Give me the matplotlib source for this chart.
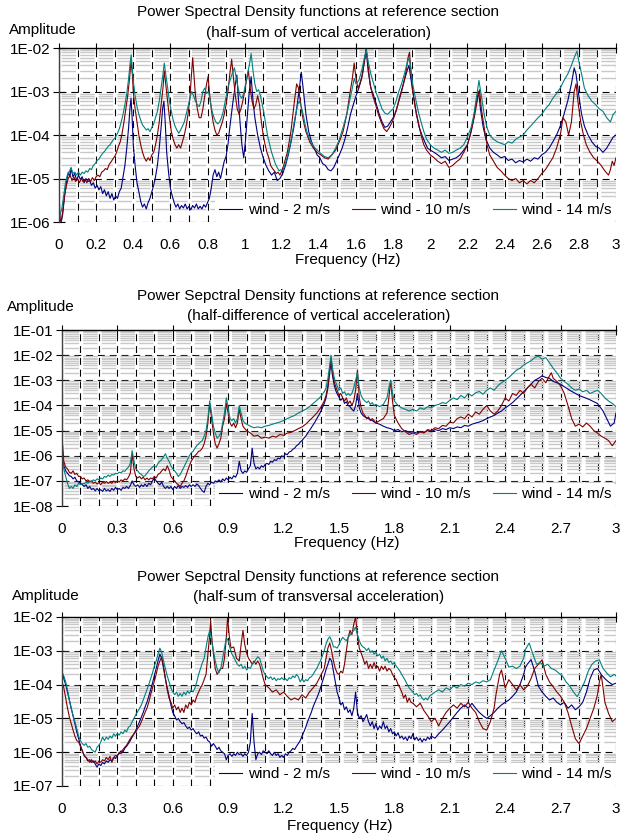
#!/usr/bin/env python
# -*- coding: utf-8 -*-

'''
Power spectral density functions at reference section, three panels.
Each series is a list of (frequency [Hz], amplitude) pairs read off the chart.
'''

import math
import matplotlib
matplotlib.use('Agg')
import matplotlib.pyplot as plt
from matplotlib.ticker import MultipleLocator, LogLocator, FuncFormatter, NullFormatter

# ---------------------------------------------------------------------------
# Panel 1: half-sum of vertical acceleration
# ---------------------------------------------------------------------------
sumV_2 = [(0.0, 6e-6), (0.005, 1.2e-6), (0.012, 1e-6), (0.02, 1.5e-6), (0.03, 4e-6), (0.04, 8e-6),
          (0.05, 1.4e-5), (0.058, 1.1e-5), (0.065, 1.7e-5), (0.075, 1.1e-5), (0.085, 1.3e-5),
          (0.095, 9e-6), (0.105, 1.2e-5), (0.115, 9.5e-6), (0.125, 1.1e-5), (0.135, 8e-6),
          (0.145, 1e-5), (0.155, 8.5e-6), (0.165, 9e-6), (0.175, 7e-6), (0.185, 8e-6), (0.195, 6e-6),
          (0.205, 7e-6), (0.215, 5.5e-6), (0.225, 6.5e-6), (0.235, 4.5e-6), (0.245, 5.5e-6),
          (0.255, 4e-6), (0.265, 5e-6), (0.275, 3.5e-6), (0.285, 4.5e-6), (0.295, 3.2e-6),
          (0.305, 4e-6), (0.315, 3.5e-6), (0.325, 5e-6), (0.335, 6e-6), (0.345, 1.1e-5),
          (0.355, 2e-5), (0.365, 5e-5), (0.375, 1.5e-4), (0.382, 4e-4), (0.388, 7e-4),
          (0.394, 2.5e-4), (0.4, 6e-5), (0.41, 2e-5), (0.42, 8e-6), (0.43, 5e-6), (0.44, 3e-6),
          (0.45, 2.2e-6), (0.46, 2.6e-6), (0.47, 2e-6), (0.48, 2.8e-6), (0.49, 3.5e-6), (0.5, 5e-6),
          (0.51, 7e-6), (0.52, 1.1e-5), (0.53, 2e-5), (0.54, 5e-5), (0.55, 1.5e-4), (0.558, 4e-4),
          (0.565, 6e-4), (0.572, 2e-4), (0.58, 4e-5), (0.59, 1.4e-5), (0.6, 6e-6), (0.61, 4e-6),
          (0.62, 2.8e-6), (0.63, 2.2e-6), (0.64, 2.6e-6), (0.65, 2e-6), (0.66, 2.4e-6),
          (0.67, 2.1e-6), (0.68, 2.6e-6), (0.69, 2e-6), (0.7, 2.3e-6), (0.71, 1.9e-6),
          (0.72, 2.4e-6), (0.73, 2.1e-6), (0.74, 2.6e-6), (0.75, 2e-6), (0.76, 2.3e-6), (0.77, 2e-6),
          (0.78, 2.5e-6), (0.79, 2.2e-6), (0.8, 2.8e-6), (0.81, 3.5e-6), (0.82, 6e-6),
          (0.83, 1.2e-5), (0.84, 1.6e-5), (0.85, 1.1e-5), (0.86, 1.4e-5), (0.87, 1e-5),
          (0.88, 1.6e-5), (0.89, 2.5e-5), (0.9, 3.2e-5), (0.91, 6e-5), (0.92, 1.5e-4),
          (0.935, 5e-4), (0.95, 1.5e-3), (0.958, 2.4e-3), (0.965, 8e-4), (0.975, 2e-4),
          (0.985, 6e-5), (0.995, 3e-5), (1.005, 8e-5), (1.015, 3e-4), (1.025, 1e-3),
          (1.035, 2.2e-3), (1.045, 6e-4), (1.055, 2.5e-4), (1.07, 1e-4), (1.085, 5e-5), (1.1, 3e-5),
          (1.115, 2e-5), (1.13, 1.5e-5), (1.145, 1.2e-5), (1.16, 1.4e-5), (1.175, 9e-6),
          (1.19, 1e-5), (1.205, 1.3e-5), (1.22, 2e-5), (1.235, 3.5e-5), (1.25, 7e-5),
          (1.265, 1.5e-4), (1.28, 4e-4), (1.295, 1.2e-3), (1.305, 2.8e-3), (1.315, 1.2e-3),
          (1.33, 3e-4), (1.345, 1.2e-4), (1.36, 7e-5), (1.375, 5e-5), (1.39, 3.5e-5), (1.405, 3e-5),
          (1.42, 2.2e-5), (1.435, 2e-5), (1.45, 1.6e-5), (1.465, 1.5e-5), (1.48, 1.8e-5),
          (1.495, 2.5e-5), (1.51, 3.5e-5), (1.525, 5e-5), (1.54, 8e-5), (1.555, 1.5e-4),
          (1.57, 3e-4), (1.585, 5e-4), (1.6, 8e-4), (1.615, 1.2e-3), (1.63, 2e-3), (1.645, 5e-3),
          (1.655, 9e-3), (1.665, 3e-3), (1.68, 1.2e-3), (1.695, 8e-4), (1.71, 5e-4), (1.725, 3e-4),
          (1.74, 2e-4), (1.755, 1.5e-4), (1.77, 1.6e-4), (1.785, 2e-4), (1.8, 2.5e-4),
          (1.815, 3.5e-4), (1.83, 6e-4), (1.845, 1e-3), (1.86, 1.8e-3), (1.875, 3e-3),
          (1.885, 4e-3), (1.895, 2e-3), (1.91, 8e-4), (1.925, 3e-4), (1.94, 1.5e-4),
          (1.955, 1e-4), (1.97, 7e-5), (1.985, 5e-5), (2.0, 4.5e-5), (2.02, 4e-5), (2.04, 3.5e-5),
          (2.06, 3e-5), (2.08, 3.2e-5), (2.1, 2.6e-5), (2.12, 2.8e-5), (2.14, 3e-5), (2.16, 3.5e-5),
          (2.18, 4.5e-5), (2.2, 6e-5), (2.215, 1e-4), (2.23, 2e-4), (2.245, 5e-4), (2.26, 1e-3),
          (2.27, 4e-4), (2.285, 1.5e-4), (2.3, 8e-5), (2.32, 5e-5), (2.34, 4e-5), (2.36, 3.5e-5),
          (2.38, 3e-5), (2.4, 3.2e-5), (2.42, 2.6e-5), (2.44, 2.8e-5), (2.46, 2.3e-5),
          (2.48, 2.6e-5), (2.5, 2.4e-5), (2.52, 2.8e-5), (2.54, 2.5e-5), (2.56, 3e-5),
          (2.58, 2.8e-5), (2.6, 3.5e-5), (2.62, 4e-5), (2.64, 5e-5), (2.66, 7e-5), (2.68, 1e-4),
          (2.7, 1.6e-4), (2.72, 3e-4), (2.74, 6e-4), (2.76, 1.5e-3), (2.775, 3.5e-3),
          (2.785, 2.5e-3), (2.8, 8e-4), (2.815, 3e-4), (2.83, 1.6e-4), (2.85, 1e-4), (2.87, 7e-5),
          (2.89, 5.5e-5), (2.91, 5e-5), (2.93, 4e-5), (2.95, 5e-5), (2.97, 7e-5), (2.985, 9e-5),
          (3.0, 1e-4)]

sumV_10 = [(0.0, 3e-6), (0.005, 1.2e-6), (0.012, 1e-6), (0.02, 1.8e-6), (0.03, 4e-6), (0.04, 7e-6),
           (0.05, 1e-5), (0.06, 1.2e-5), (0.07, 9e-6), (0.08, 1.1e-5), (0.09, 8.5e-6), (0.1, 1e-5),
           (0.11, 8e-6), (0.12, 1e-5), (0.13, 8.5e-6), (0.14, 9.5e-6), (0.15, 8e-6), (0.16, 1e-5),
           (0.17, 8.5e-6), (0.18, 1.05e-5), (0.19, 9e-6), (0.2, 1.1e-5), (0.21, 1.2e-5),
           (0.22, 1.1e-5), (0.23, 1.4e-5), (0.24, 1.5e-5), (0.25, 1.7e-5), (0.26, 1.6e-5),
           (0.27, 2.1e-5), (0.28, 2.4e-5), (0.29, 2.8e-5), (0.3, 3.2e-5), (0.31, 4e-5),
           (0.32, 5.5e-5), (0.33, 7e-5), (0.34, 1.1e-4), (0.35, 2e-4), (0.36, 4e-4), (0.37, 8e-4),
           (0.38, 2e-3), (0.388, 5e-3), (0.395, 2.5e-3), (0.4, 1e-3), (0.41, 4e-4), (0.42, 2e-4),
           (0.43, 1e-4), (0.44, 6e-5), (0.45, 4e-5), (0.46, 3e-5), (0.47, 2.5e-5), (0.48, 3e-5),
           (0.49, 2.6e-5), (0.5, 3.5e-5), (0.51, 4e-5), (0.52, 6e-5), (0.53, 1e-4), (0.54, 2e-4),
           (0.55, 5e-4), (0.56, 1.2e-3), (0.567, 3e-3), (0.575, 1.5e-3), (0.585, 6e-4),
           (0.595, 2.5e-4), (0.605, 1.2e-4), (0.615, 8e-5), (0.625, 6e-5), (0.635, 5e-5),
           (0.645, 6e-5), (0.655, 5e-5), (0.665, 7e-5), (0.675, 1e-4), (0.685, 1.6e-4),
           (0.695, 3e-4), (0.705, 7e-4), (0.712, 2e-3), (0.72, 6e-3), (0.728, 2e-3), (0.735, 8e-4),
           (0.745, 4e-4), (0.755, 2.5e-4), (0.765, 2.5e-4), (0.775, 4e-4), (0.785, 8e-4),
           (0.795, 1.5e-3), (0.803, 2.2e-3), (0.81, 1e-3), (0.82, 4e-4), (0.83, 2e-4),
           (0.84, 1.3e-4), (0.85, 1e-4), (0.86, 1.1e-4), (0.87, 1.5e-4), (0.88, 2e-4), (0.89, 3e-4),
           (0.9, 5e-4), (0.91, 1e-3), (0.92, 2.5e-3), (0.93, 5.5e-3), (0.94, 2e-3), (0.95, 8e-4),
           (0.96, 4e-4), (0.97, 3e-4), (0.98, 4e-4), (0.99, 6e-4), (1.0, 1e-3), (1.01, 1.8e-3),
           (1.02, 3e-3), (1.03, 1.2e-3), (1.04, 6e-4), (1.05, 4e-4), (1.06, 5e-4), (1.07, 8e-4),
           (1.08, 5e-4), (1.09, 2e-4), (1.1, 1e-4), (1.11, 6e-5), (1.12, 4e-5), (1.13, 3e-5),
           (1.14, 2e-5), (1.15, 1.7e-5), (1.16, 1.5e-5), (1.17, 1.3e-5), (1.18, 1.4e-5),
           (1.19, 1.2e-5), (1.2, 1.5e-5), (1.21, 2e-5), (1.22, 2.8e-5), (1.23, 4e-5), (1.24, 7e-5),
           (1.25, 1.3e-4), (1.26, 3e-4), (1.27, 7e-4), (1.28, 1.5e-3), (1.29, 1.2e-3), (1.3, 6e-4),
           (1.31, 3e-4), (1.32, 1.8e-4), (1.33, 1.2e-4), (1.35, 7e-5), (1.37, 5e-5), (1.39, 4e-5),
           (1.41, 3.5e-5), (1.43, 3e-5), (1.45, 2.8e-5), (1.47, 3.5e-5), (1.49, 4.5e-5),
           (1.51, 7e-5), (1.53, 1.2e-4), (1.55, 3e-4), (1.565, 8e-4), (1.58, 2e-3), (1.59, 4.5e-3),
           (1.6, 2e-3), (1.61, 1.2e-3), (1.62, 1.5e-3), (1.635, 2.5e-3), (1.645, 5e-3),
           (1.655, 1e-2), (1.665, 4e-3), (1.675, 1.5e-3), (1.69, 8e-4), (1.705, 5e-4), (1.72, 3e-4),
           (1.735, 2e-4), (1.75, 1.4e-4), (1.765, 1.2e-4), (1.78, 1.5e-4), (1.795, 2e-4),
           (1.81, 3e-4), (1.825, 5e-4), (1.84, 9e-4), (1.855, 1.5e-3), (1.87, 3e-3), (1.88, 6e-3),
           (1.888, 8e-3), (1.895, 3e-3), (1.905, 1e-3), (1.92, 4e-4), (1.935, 2e-4), (1.95, 1e-4),
           (1.965, 6e-5), (1.98, 4.5e-5), (2.0, 3.5e-5), (2.02, 3e-5), (2.04, 2.5e-5),
           (2.06, 2.2e-5), (2.08, 2.5e-5), (2.1, 1.8e-5), (2.12, 2e-5), (2.14, 2.4e-5),
           (2.16, 2.8e-5), (2.18, 4e-5), (2.2, 6e-5), (2.22, 1.2e-4), (2.24, 3e-4), (2.255, 7e-4),
           (2.265, 1.1e-3), (2.275, 4e-4), (2.29, 1.5e-4), (2.305, 6e-5), (2.32, 3.5e-5),
           (2.34, 2.5e-5), (2.36, 1.8e-5), (2.38, 1.5e-5), (2.4, 1.2e-5), (2.42, 1e-5),
           (2.44, 9e-6), (2.46, 1e-5), (2.48, 8e-6), (2.5, 9e-6), (2.52, 7.5e-6), (2.54, 9e-6),
           (2.56, 8e-6), (2.58, 1e-5), (2.6, 1.3e-5), (2.62, 1.6e-5), (2.64, 2.2e-5), (2.66, 3e-5),
           (2.68, 5e-5), (2.7, 1e-4), (2.715, 2.5e-4), (2.73, 2e-4), (2.745, 1e-4), (2.76, 2e-4),
           (2.775, 1e-3), (2.785, 1.5e-3), (2.795, 6e-4), (2.81, 2e-4), (2.825, 1e-4), (2.84, 6e-5),
           (2.86, 4e-5), (2.88, 3e-5), (2.9, 2.5e-5), (2.92, 2e-5), (2.94, 1.5e-5), (2.96, 1.2e-5),
           (2.97, 1.6e-5), (2.98, 2.5e-5), (2.99, 2e-5), (3.0, 3e-5)]

sumV_14 = [(0.0, 2e-6), (0.005, 1.5e-6), (0.015, 2e-6), (0.025, 4e-6), (0.035, 8e-6),
           (0.045, 1.2e-5), (0.055, 1.4e-5), (0.065, 1.8e-5), (0.075, 1.3e-5), (0.085, 1.4e-5),
           (0.095, 1.2e-5), (0.105, 1.4e-5), (0.115, 1.2e-5), (0.125, 1.4e-5), (0.135, 1.3e-5),
           (0.145, 1.5e-5), (0.155, 1.4e-5), (0.165, 1.7e-5), (0.175, 1.6e-5), (0.185, 2e-5),
           (0.195, 2.2e-5), (0.205, 2.6e-5), (0.215, 2.8e-5), (0.225, 3.3e-5), (0.235, 3.8e-5),
           (0.245, 4.2e-5), (0.255, 4.8e-5), (0.265, 5.5e-5), (0.275, 6e-5), (0.285, 7e-5),
           (0.295, 8e-5), (0.305, 9e-5), (0.315, 1.1e-4), (0.325, 1.4e-4), (0.335, 2e-4),
           (0.345, 3e-4), (0.355, 5e-4), (0.365, 9e-4), (0.375, 2e-3), (0.383, 4.5e-3),
           (0.389, 7e-3), (0.395, 3.5e-3), (0.402, 1.5e-3), (0.41, 8e-4), (0.42, 4.5e-4),
           (0.43, 3e-4), (0.44, 2.2e-4), (0.45, 1.7e-4), (0.46, 1.5e-4), (0.47, 1.3e-4),
           (0.48, 1.4e-4), (0.49, 1.2e-4), (0.5, 1.5e-4), (0.51, 1.8e-4), (0.52, 2.5e-4),
           (0.53, 3.5e-4), (0.54, 6e-4), (0.55, 1.2e-3), (0.56, 2.5e-3), (0.567, 4.5e-3),
           (0.575, 2.5e-3), (0.585, 1.2e-3), (0.595, 6e-4), (0.605, 3.5e-4), (0.615, 2.2e-4),
           (0.625, 1.6e-4), (0.635, 1.3e-4), (0.645, 1.1e-4), (0.655, 1.3e-4), (0.665, 1.6e-4),
           (0.675, 2e-4), (0.685, 3e-4), (0.695, 4.5e-4), (0.705, 7e-4), (0.715, 1e-3),
           (0.725, 8e-4), (0.735, 6e-4), (0.745, 5e-4), (0.755, 4.5e-4), (0.765, 6e-4),
           (0.775, 1e-3), (0.785, 1.2e-3), (0.795, 9e-4), (0.805, 1e-3), (0.815, 6e-4),
           (0.825, 3.5e-4), (0.835, 2.5e-4), (0.845, 2e-4), (0.855, 1.8e-4), (0.865, 2e-4),
           (0.875, 2.5e-4), (0.885, 3.5e-4), (0.895, 6e-4), (0.905, 1e-3), (0.915, 1.5e-3),
           (0.925, 2e-3), (0.935, 2.8e-3), (0.945, 3.5e-3), (0.955, 2e-3), (0.965, 1.2e-3),
           (0.975, 8e-4), (0.985, 7e-4), (0.995, 9e-4), (1.005, 1.5e-3), (1.015, 2.5e-3),
           (1.025, 4e-3), (1.035, 7.5e-3), (1.045, 3e-3), (1.055, 1.5e-3), (1.065, 1e-3),
           (1.075, 1.1e-3), (1.085, 8e-4), (1.095, 5e-4), (1.105, 3e-4), (1.115, 1.6e-4),
           (1.125, 9e-5), (1.135, 6e-5), (1.145, 4e-5), (1.155, 3e-5), (1.165, 2.2e-5),
           (1.175, 1.8e-5), (1.185, 1.5e-5), (1.195, 1.6e-5), (1.205, 1.5e-5), (1.215, 2e-5),
           (1.225, 2.6e-5), (1.235, 4e-5), (1.245, 6e-5), (1.255, 1e-4), (1.265, 1.8e-4),
           (1.275, 3e-4), (1.285, 5e-4), (1.295, 6e-4), (1.305, 4.5e-4), (1.315, 3e-4),
           (1.325, 1.8e-4), (1.335, 1.2e-4), (1.35, 8e-5), (1.37, 5.5e-5), (1.39, 4.5e-5),
           (1.41, 3.8e-5), (1.43, 3.2e-5), (1.45, 3e-5), (1.47, 3.5e-5), (1.49, 5e-5), (1.51, 8e-5),
           (1.53, 1.5e-4), (1.55, 3e-4), (1.565, 6e-4), (1.58, 1.2e-3), (1.59, 2e-3), (1.6, 1.5e-3),
           (1.615, 1.8e-3), (1.63, 3e-3), (1.645, 6e-3), (1.655, 9e-3), (1.665, 5e-3),
           (1.68, 2.5e-3), (1.695, 1.5e-3), (1.71, 9e-4), (1.725, 6e-4), (1.74, 4e-4),
           (1.755, 3.2e-4), (1.77, 3e-4), (1.785, 3.5e-4), (1.8, 4e-4), (1.815, 6e-4),
           (1.83, 1e-3), (1.845, 1.5e-3), (1.86, 2.5e-3), (1.875, 4.5e-3), (1.885, 6e-3),
           (1.895, 3.5e-3), (1.905, 1.5e-3), (1.92, 7e-4), (1.935, 3.5e-4), (1.95, 2e-4),
           (1.965, 1.2e-4), (1.98, 8e-5), (2.0, 6e-5), (2.02, 5e-5), (2.04, 4.5e-5), (2.06, 4e-5),
           (2.08, 4.5e-5), (2.1, 3.8e-5), (2.12, 4e-5), (2.14, 4.5e-5), (2.16, 5e-5), (2.18, 6e-5),
           (2.2, 9e-5), (2.22, 1.5e-4), (2.235, 3e-4), (2.25, 8e-4), (2.262, 1.8e-3),
           (2.275, 8e-4), (2.29, 3e-4), (2.305, 1.5e-4), (2.32, 1e-4), (2.34, 8e-5), (2.36, 7e-5),
           (2.38, 6.5e-5), (2.4, 6e-5), (2.42, 7e-5), (2.44, 6.5e-5), (2.46, 8e-5), (2.48, 9e-5),
           (2.5, 1e-4), (2.52, 1.3e-4), (2.54, 1.6e-4), (2.56, 2e-4), (2.58, 2.5e-4), (2.6, 3e-4),
           (2.62, 4e-4), (2.64, 5e-4), (2.66, 7e-4), (2.68, 9e-4), (2.7, 1.2e-3), (2.72, 1.8e-3),
           (2.74, 2.5e-3), (2.76, 4e-3), (2.775, 6e-3), (2.79, 8.5e-3), (2.8, 5e-3),
           (2.815, 2.5e-3), (2.83, 1.2e-3), (2.85, 8e-4), (2.87, 6e-4), (2.89, 5e-4), (2.91, 4e-4),
           (2.93, 3.5e-4), (2.95, 2.5e-4), (2.97, 2e-4), (2.985, 3e-4), (3.0, 3.5e-4)]

# ---------------------------------------------------------------------------
# Panel 2: half-difference of vertical acceleration
# ---------------------------------------------------------------------------
difV_2 = [(0.0, 5e-7), (0.005, 1e-6), (0.01, 4e-7), (0.02, 2.5e-7), (0.03, 2e-7), (0.04, 1.6e-7),
          (0.05, 1.5e-7), (0.06, 1.2e-7), (0.07, 1.4e-7), (0.08, 1e-7), (0.09, 9e-8), (0.1, 8e-8),
          (0.11, 7e-8), (0.12, 6e-8), (0.13, 7e-8), (0.14, 5e-8), (0.15, 6e-8), (0.16, 4.5e-8),
          (0.17, 5e-8), (0.18, 4e-8), (0.19, 5e-8), (0.2, 4e-8), (0.21, 4.5e-8), (0.22, 3.8e-8),
          (0.23, 5e-8), (0.24, 4e-8), (0.25, 4.5e-8), (0.26, 3.8e-8), (0.27, 5e-8), (0.28, 4.2e-8),
          (0.29, 5.5e-8), (0.3, 4.5e-8), (0.31, 5e-8), (0.32, 4.2e-8), (0.33, 5.5e-8), (0.34, 5e-8),
          (0.35, 6e-8), (0.36, 5e-8), (0.37, 6.5e-8), (0.38, 1e-7), (0.39, 7e-8), (0.4, 6e-8),
          (0.41, 7e-8), (0.42, 5.5e-8), (0.43, 7e-8), (0.44, 6e-8), (0.45, 7.5e-8), (0.46, 6e-8),
          (0.47, 8e-8), (0.48, 7e-8), (0.49, 1e-7), (0.5, 1.3e-7), (0.51, 1e-7), (0.52, 8e-8),
          (0.53, 7e-8), (0.54, 9e-8), (0.55, 6e-8), (0.56, 5e-8), (0.57, 6e-8), (0.58, 5e-8),
          (0.59, 6e-8), (0.6, 4.5e-8), (0.61, 6e-8), (0.62, 5e-8), (0.63, 6.5e-8), (0.64, 5e-8),
          (0.65, 6e-8), (0.66, 5.5e-8), (0.67, 6.5e-8), (0.68, 5.5e-8), (0.69, 7e-8), (0.7, 6e-8),
          (0.71, 7e-8), (0.72, 6e-8), (0.73, 7.5e-8), (0.74, 6.5e-8), (0.75, 5e-8), (0.76, 4e-8),
          (0.77, 3.5e-8), (0.78, 6e-8), (0.79, 8e-8), (0.8, 7e-8), (0.81, 9e-8), (0.82, 8e-8),
          (0.83, 1e-7), (0.84, 9e-8), (0.85, 1.1e-7), (0.86, 9e-8), (0.87, 1.2e-7), (0.88, 1e-7),
          (0.89, 1.3e-7), (0.9, 1.1e-7), (0.91, 1.4e-7), (0.92, 1.2e-7), (0.93, 1.6e-7),
          (0.94, 1.4e-7), (0.95, 2e-7), (0.96, 6e-7), (0.97, 2.5e-7), (0.98, 2e-7), (0.99, 2.5e-7),
          (1.0, 2.2e-7), (1.01, 3e-7), (1.02, 4e-7), (1.03, 2e-6), (1.04, 5e-7), (1.05, 3e-7),
          (1.06, 3.5e-7), (1.07, 3e-7), (1.08, 4e-7), (1.09, 3.5e-7), (1.1, 4.5e-7), (1.11, 5e-7),
          (1.12, 4.5e-7), (1.13, 6e-7), (1.14, 5.5e-7), (1.15, 7e-7), (1.16, 6.5e-7), (1.17, 8e-7),
          (1.18, 7.5e-7), (1.19, 1e-6), (1.2, 9e-7), (1.21, 1.2e-6), (1.22, 1.1e-6), (1.23, 1.4e-6),
          (1.24, 1.5e-6), (1.25, 1.8e-6), (1.26, 2e-6), (1.27, 2.5e-6), (1.28, 2.8e-6),
          (1.29, 3.5e-6), (1.3, 4e-6), (1.31, 5e-6), (1.32, 6e-6), (1.33, 8e-6), (1.34, 1e-5),
          (1.35, 1.3e-5), (1.36, 1.7e-5), (1.37, 2.2e-5), (1.38, 3e-5), (1.39, 4e-5),
          (1.4, 5.5e-5), (1.41, 8e-5), (1.42, 1.2e-4), (1.43, 2e-4), (1.44, 5e-4), (1.45, 2e-3),
          (1.457, 6e-3), (1.465, 1.5e-3), (1.475, 6e-4), (1.485, 3.5e-4), (1.495, 2.5e-4),
          (1.51, 1.6e-4), (1.52, 2e-4), (1.53, 1.2e-4), (1.54, 1.4e-4), (1.55, 1e-4), (1.56, 9e-5),
          (1.57, 7e-5), (1.58, 6e-5), (1.59, 1e-4), (1.6, 3e-4), (1.61, 8e-5), (1.62, 5e-5),
          (1.63, 4e-5), (1.64, 3.5e-5), (1.66, 3e-5), (1.68, 2.5e-5), (1.7, 2e-5), (1.72, 1.8e-5),
          (1.74, 1.5e-5), (1.76, 1.3e-5), (1.78, 1.2e-5), (1.8, 1e-5), (1.82, 1.1e-5),
          (1.84, 9e-6), (1.86, 1e-5), (1.88, 8.5e-6), (1.9, 9e-6), (1.92, 8e-6), (1.94, 9e-6),
          (1.96, 8.5e-6), (1.98, 1e-5), (2.0, 9e-6), (2.02, 1.1e-5), (2.04, 1e-5), (2.06, 1.2e-5),
          (2.08, 1.1e-5), (2.1, 1.3e-5), (2.12, 1.2e-5), (2.14, 1.4e-5), (2.16, 1.3e-5),
          (2.18, 1.6e-5), (2.2, 1.5e-5), (2.22, 1.8e-5), (2.24, 2e-5), (2.26, 2.2e-5),
          (2.28, 2.5e-5), (2.3, 3e-5), (2.32, 3.5e-5), (2.34, 4e-5), (2.36, 5e-5), (2.38, 6e-5),
          (2.4, 8e-5), (2.42, 1e-4), (2.44, 1.3e-4), (2.46, 1.8e-4), (2.48, 2.5e-4), (2.5, 3.5e-4),
          (2.52, 5e-4), (2.54, 7e-4), (2.56, 1e-3), (2.58, 1.2e-3), (2.6, 1.5e-3), (2.62, 1.3e-3),
          (2.64, 1.2e-3), (2.66, 9e-4), (2.68, 8e-4), (2.7, 7e-4), (2.75, 4e-4), (2.8, 2.5e-4),
          (2.85, 1.8e-4), (2.9, 1.2e-4), (2.93, 6e-5), (2.95, 3e-5), (2.97, 1.5e-5), (2.99, 2e-5),
          (3.0, 5e-5)]

difV_10 = [(0.0, 5e-6), (0.005, 2e-6), (0.01, 6e-7), (0.02, 3.5e-7), (0.03, 3e-7), (0.04, 2.2e-7),
           (0.05, 2e-7), (0.06, 2.5e-7), (0.07, 1.8e-7), (0.08, 2e-7), (0.09, 1.5e-7), (0.1, 1.5e-7),
           (0.11, 1.2e-7), (0.12, 1.3e-7), (0.13, 1e-7), (0.14, 1.1e-7), (0.15, 9e-8), (0.16, 1e-7),
           (0.17, 8e-8), (0.18, 9e-8), (0.19, 7.5e-8), (0.2, 8.5e-8), (0.21, 7e-8), (0.22, 9e-8),
           (0.23, 8e-8), (0.24, 9.5e-8), (0.25, 8e-8), (0.26, 9e-8), (0.27, 8e-8), (0.28, 1e-7),
           (0.29, 8.5e-8), (0.3, 1e-7), (0.31, 9e-8), (0.32, 1.1e-7), (0.33, 1e-7), (0.34, 1.2e-7),
           (0.35, 1.1e-7), (0.36, 1.4e-7), (0.37, 2e-7), (0.38, 1.2e-6), (0.39, 3e-7), (0.4, 1.5e-7),
           (0.41, 1.3e-7), (0.42, 1.5e-7), (0.43, 1.2e-7), (0.44, 1.4e-7), (0.45, 1.1e-7),
           (0.46, 1.3e-7), (0.47, 1.1e-7), (0.48, 1.3e-7), (0.49, 1.2e-7), (0.5, 1.5e-7),
           (0.51, 1.3e-7), (0.52, 1.8e-7), (0.53, 2e-7), (0.54, 2.5e-7), (0.55, 3e-7),
           (0.56, 2.5e-7), (0.57, 4e-7), (0.58, 2.7e-7), (0.59, 1.5e-7), (0.6, 1.2e-7), (0.61, 1e-7),
           (0.62, 8e-8), (0.63, 7e-8), (0.64, 6e-8), (0.65, 8e-8), (0.66, 1e-7), (0.67, 1.5e-7),
           (0.68, 2.5e-7), (0.69, 4e-7), (0.7, 6e-7), (0.71, 8e-7), (0.72, 1e-6), (0.73, 1.2e-6),
           (0.74, 1.5e-6), (0.75, 1.6e-6), (0.76, 2e-6), (0.77, 3e-6), (0.78, 6e-6), (0.79, 2e-5),
           (0.8, 1.2e-4), (0.81, 3e-5), (0.82, 8e-6), (0.83, 3e-6), (0.84, 2e-6), (0.85, 3e-6),
           (0.86, 5e-6), (0.87, 1.5e-5), (0.88, 3e-5), (0.89, 1.2e-4), (0.9, 5e-5), (0.91, 2e-5),
           (0.92, 1.5e-5), (0.93, 2e-5), (0.94, 1.3e-5), (0.95, 2e-5), (0.96, 7e-5), (0.97, 3e-5),
           (0.98, 1.5e-5), (0.99, 1.2e-5), (1.0, 1e-5), (1.02, 8e-6), (1.04, 6e-6), (1.06, 6.5e-6),
           (1.08, 5e-6), (1.1, 5.5e-6), (1.12, 5e-6), (1.14, 6e-6), (1.16, 5.5e-6), (1.18, 7e-6),
           (1.2, 6.5e-6), (1.22, 8e-6), (1.24, 8.5e-6), (1.26, 1e-5), (1.28, 1.2e-5),
           (1.3, 1.4e-5), (1.32, 1.8e-5), (1.34, 2.5e-5), (1.36, 3.5e-5), (1.38, 5e-5),
           (1.4, 8e-5), (1.42, 1.5e-4), (1.43, 2.5e-4), (1.44, 6e-4), (1.45, 3e-3), (1.457, 8e-3),
           (1.465, 2e-3), (1.475, 8e-4), (1.49, 4e-4), (1.5, 2.5e-4), (1.51, 3e-4), (1.52, 2e-4),
           (1.53, 1.5e-4), (1.54, 2e-4), (1.55, 1.2e-4), (1.56, 1.5e-4), (1.57, 1e-4),
           (1.58, 1.5e-4), (1.59, 4e-4), (1.6, 2.5e-3), (1.61, 2e-4), (1.62, 8e-5), (1.63, 5e-5),
           (1.64, 4e-5), (1.65, 3e-5), (1.66, 3.5e-5), (1.67, 2.5e-5), (1.68, 3e-5), (1.69, 2.5e-5),
           (1.7, 2e-5), (1.72, 2.5e-5), (1.74, 3e-5), (1.76, 5e-5), (1.77, 2e-4), (1.78, 1e-3),
           (1.79, 1.5e-4), (1.8, 4e-5), (1.82, 2e-5), (1.84, 1.2e-5), (1.86, 9e-6), (1.88, 7e-6),
           (1.9, 8e-6), (1.92, 7e-6), (1.94, 9e-6), (1.96, 8e-6), (1.98, 1.1e-5), (2.0, 1e-5),
           (2.02, 1.3e-5), (2.04, 1.2e-5), (2.06, 1.6e-5), (2.08, 1.5e-5), (2.1, 2.2e-5),
           (2.12, 2e-5), (2.14, 3e-5), (2.16, 3.5e-5), (2.18, 3e-5), (2.2, 4.5e-5), (2.22, 3.5e-5),
           (2.24, 5.5e-5), (2.26, 4.5e-5), (2.28, 7e-5), (2.3, 1e-4), (2.32, 6e-5), (2.34, 4.5e-5),
           (2.36, 6e-5), (2.38, 1e-4), (2.4, 2e-4), (2.42, 1.5e-4), (2.44, 3e-4), (2.46, 2.5e-4),
           (2.48, 4e-4), (2.5, 3e-4), (2.52, 5e-4), (2.54, 7e-4), (2.56, 5e-4), (2.58, 9e-4),
           (2.6, 1.2e-3), (2.62, 8e-4), (2.64, 1.5e-3), (2.65, 2e-3), (2.66, 1.2e-3), (2.68, 9e-4),
           (2.7, 6e-4), (2.72, 3e-4), (2.74, 1e-4), (2.76, 3e-5), (2.78, 1.5e-5), (2.8, 1.8e-5),
           (2.82, 1.4e-5), (2.84, 2e-5), (2.86, 1.5e-5), (2.88, 1e-5), (2.9, 8e-6), (2.92, 6e-6),
           (2.94, 5e-6), (2.96, 4e-6), (2.98, 2.5e-6), (3.0, 4e-6)]

difV_14 = [(0.0, 2e-6), (0.005, 6e-7), (0.01, 3e-7), (0.02, 1.5e-7), (0.03, 8e-8), (0.04, 5e-8),
           (0.05, 6e-8), (0.06, 5e-8), (0.07, 7e-8), (0.08, 6e-8), (0.09, 8e-8), (0.1, 7e-8),
           (0.11, 8e-8), (0.12, 7.5e-8), (0.13, 9e-8), (0.14, 8e-8), (0.15, 1e-7), (0.16, 9e-8),
           (0.17, 1.1e-7), (0.18, 1e-7), (0.19, 1.2e-7), (0.2, 1.1e-7), (0.21, 1.3e-7),
           (0.22, 1.2e-7), (0.23, 1.5e-7), (0.24, 1.4e-7), (0.25, 1.7e-7), (0.26, 1.5e-7),
           (0.27, 1.8e-7), (0.28, 1.7e-7), (0.29, 2e-7), (0.3, 1.9e-7), (0.31, 2.2e-7),
           (0.32, 2.1e-7), (0.33, 2.5e-7), (0.34, 2.4e-7), (0.35, 3e-7), (0.36, 3.5e-7),
           (0.37, 5e-7), (0.38, 1.6e-6), (0.39, 6e-7), (0.4, 3e-7), (0.41, 2.5e-7), (0.42, 2e-7),
           (0.43, 1.8e-7), (0.44, 1.5e-7), (0.45, 1.6e-7), (0.46, 2e-7), (0.47, 2.5e-7), (0.48, 3e-7),
           (0.49, 3.5e-7), (0.5, 4e-7), (0.51, 3.5e-7), (0.52, 5e-7), (0.53, 6e-7), (0.54, 7e-7),
           (0.55, 9e-7), (0.56, 1.2e-6), (0.57, 8e-7), (0.58, 6e-7), (0.59, 4e-7), (0.6, 3e-7),
           (0.61, 2.5e-7), (0.62, 2e-7), (0.63, 1.5e-7), (0.64, 1.8e-7), (0.65, 2.5e-7),
           (0.66, 3.5e-7), (0.67, 5e-7), (0.68, 7e-7), (0.69, 1e-6), (0.7, 1.3e-6), (0.71, 1.5e-6),
           (0.72, 2e-6), (0.73, 2.5e-6), (0.74, 3e-6), (0.75, 3.5e-6), (0.76, 4e-6), (0.77, 6e-6),
           (0.78, 1e-5), (0.79, 3e-5), (0.8, 1.5e-4), (0.81, 5e-5), (0.82, 1.5e-5), (0.83, 8e-6),
           (0.84, 5e-6), (0.85, 6e-6), (0.86, 8e-6), (0.87, 2e-5), (0.88, 5e-5), (0.89, 2e-4),
           (0.9, 8e-5), (0.91, 3e-5), (0.92, 2.5e-5), (0.93, 3e-5), (0.94, 2e-5), (0.95, 3e-5),
           (0.96, 1e-4), (0.97, 5e-5), (0.98, 2.5e-5), (0.99, 2e-5), (1.0, 1.8e-5), (1.02, 1.5e-5),
           (1.04, 1.3e-5), (1.06, 1.4e-5), (1.08, 1.3e-5), (1.1, 1.5e-5), (1.12, 1.6e-5),
           (1.14, 1.8e-5), (1.16, 2e-5), (1.18, 2.2e-5), (1.2, 2.5e-5), (1.22, 3e-5),
           (1.24, 3.5e-5), (1.26, 4e-5), (1.28, 5e-5), (1.3, 6e-5), (1.32, 7e-5), (1.34, 9e-5),
           (1.36, 1.2e-4), (1.38, 1.6e-4), (1.4, 2.2e-4), (1.42, 3.5e-4), (1.43, 5e-4),
           (1.44, 1.2e-3), (1.45, 4e-3), (1.457, 1e-2), (1.465, 3e-3), (1.475, 1.2e-3),
           (1.49, 6e-4), (1.5, 4e-4), (1.51, 5e-4), (1.52, 3e-4), (1.53, 3.5e-4), (1.54, 2.5e-4),
           (1.55, 3e-4), (1.56, 2.5e-4), (1.57, 3e-4), (1.58, 5e-4), (1.59, 1e-3), (1.6, 2e-3),
           (1.61, 5e-4), (1.62, 2.5e-4), (1.63, 1.8e-4), (1.64, 1.5e-4), (1.65, 1.3e-4),
           (1.66, 1.5e-4), (1.67, 1.1e-4), (1.68, 1.3e-4), (1.69, 1e-4), (1.7, 1.1e-4),
           (1.72, 9e-5), (1.74, 1.1e-4), (1.76, 2e-4), (1.77, 5e-4), (1.78, 1e-3), (1.79, 3e-4),
           (1.8, 1.5e-4), (1.82, 1e-4), (1.84, 8e-5), (1.86, 7e-5), (1.88, 6e-5), (1.9, 7e-5),
           (1.92, 6e-5), (1.94, 8e-5), (1.96, 7e-5), (1.98, 9e-5), (2.0, 8e-5), (2.02, 1e-4),
           (2.04, 1.1e-4), (2.06, 1.3e-4), (2.08, 1.2e-4), (2.1, 1.6e-4), (2.12, 2e-4),
           (2.14, 1.7e-4), (2.16, 2.5e-4), (2.18, 2e-4), (2.2, 3e-4), (2.22, 2.4e-4), (2.24, 3.2e-4),
           (2.26, 3.6e-4), (2.28, 2.8e-4), (2.3, 4e-4), (2.32, 5e-4), (2.34, 4e-4), (2.36, 6e-4),
           (2.38, 8e-4), (2.4, 1e-3), (2.42, 1.3e-3), (2.44, 1.8e-3), (2.46, 2.5e-3), (2.48, 3e-3),
           (2.5, 4e-3), (2.52, 5e-3), (2.54, 6e-3), (2.56, 8e-3), (2.58, 9e-3), (2.6, 7e-3),
           (2.62, 8e-3), (2.64, 5e-3), (2.66, 3e-3), (2.68, 2e-3), (2.7, 1.2e-3), (2.72, 9e-4),
           (2.74, 7e-4), (2.76, 5e-4), (2.78, 4e-4), (2.8, 4.5e-4), (2.82, 3.5e-4), (2.84, 4e-4),
           (2.86, 3e-4), (2.88, 3.5e-4), (2.9, 4e-4), (2.92, 3e-4), (2.94, 2e-4), (2.96, 1.5e-4),
           (2.98, 1.2e-4), (3.0, 9e-5)]

# ---------------------------------------------------------------------------
# Panel 3: half-sum of transversal acceleration
# ---------------------------------------------------------------------------
sumT_2 = [(0.0, 2.5e-4), (0.01, 1.5e-4), (0.02, 1e-4), (0.03, 6e-5), (0.04, 3.5e-5), (0.05, 2e-5),
          (0.06, 1.2e-5), (0.07, 7e-6), (0.08, 4e-6), (0.09, 2.5e-6), (0.1, 1.6e-6), (0.11, 1.1e-6),
          (0.12, 8e-7), (0.13, 7e-7), (0.14, 5.5e-7), (0.15, 6e-7), (0.16, 5e-7), (0.17, 5.5e-7),
          (0.18, 4.5e-7), (0.19, 3.6e-7), (0.2, 4.5e-7), (0.21, 4e-7), (0.22, 5e-7), (0.23, 4.5e-7),
          (0.24, 5.5e-7), (0.25, 5e-7), (0.26, 6e-7), (0.27, 5.5e-7), (0.28, 7e-7), (0.29, 6.5e-7),
          (0.3, 8e-7), (0.31, 9e-7), (0.32, 1.1e-6), (0.33, 1e-6), (0.34, 1.3e-6), (0.35, 1.5e-6),
          (0.36, 1.8e-6), (0.37, 2.2e-6), (0.38, 2.8e-6), (0.39, 3.5e-6), (0.4, 4.5e-6),
          (0.41, 6e-6), (0.42, 8e-6), (0.43, 1.1e-5), (0.44, 1.5e-5), (0.45, 2.2e-5), (0.46, 3e-5),
          (0.47, 4.5e-5), (0.48, 7e-5), (0.49, 1.1e-4), (0.5, 1.8e-4), (0.51, 3e-4), (0.52, 5e-4),
          (0.53, 8e-4), (0.54, 6e-4), (0.55, 3e-4), (0.56, 1.5e-4), (0.57, 8e-5), (0.58, 4.5e-5),
          (0.59, 2.5e-5), (0.6, 1.5e-5), (0.61, 1.2e-5), (0.62, 9e-6), (0.63, 1e-5), (0.64, 8e-6),
          (0.65, 7e-6), (0.66, 7.5e-6), (0.67, 6e-6), (0.68, 5e-6), (0.69, 5.5e-6), (0.7, 4.5e-6),
          (0.71, 5e-6), (0.72, 4e-6), (0.73, 3.5e-6), (0.74, 4e-6), (0.75, 3e-6), (0.76, 3.2e-6),
          (0.77, 2.6e-6), (0.78, 2.8e-6), (0.79, 2.2e-6), (0.8, 2e-6), (0.81, 1.5e-6),
          (0.82, 1.8e-6), (0.83, 1.5e-6), (0.84, 1.2e-6), (0.85, 1.4e-6), (0.86, 1.1e-6),
          (0.87, 1e-6), (0.88, 9e-7), (0.89, 6e-7), (0.9, 8e-7), (0.91, 9e-7), (0.92, 7.5e-7),
          (0.93, 9e-7), (0.94, 8e-7), (0.95, 1e-6), (0.96, 8.5e-7), (0.97, 9e-7), (0.98, 7.5e-7),
          (0.99, 9e-7), (1.0, 8e-7), (1.01, 1e-6), (1.02, 2e-6), (1.03, 1.4e-5), (1.04, 2e-6),
          (1.05, 6e-7), (1.06, 9e-7), (1.07, 1e-6), (1.08, 8.5e-7), (1.09, 1.1e-6), (1.1, 1e-6),
          (1.11, 9e-7), (1.12, 1.1e-6), (1.13, 9e-7), (1.14, 8e-7), (1.15, 1e-6), (1.16, 8e-7),
          (1.17, 9e-7), (1.18, 7e-7), (1.19, 8e-7), (1.2, 7e-7), (1.21, 9e-7), (1.22, 8e-7),
          (1.23, 1e-6), (1.24, 1.1e-6), (1.25, 1.3e-6), (1.26, 1.2e-6), (1.27, 1.5e-6),
          (1.28, 1.8e-6), (1.29, 2.2e-6), (1.3, 3e-6), (1.31, 4e-6), (1.32, 5.5e-6), (1.33, 8e-6),
          (1.34, 1.1e-5), (1.35, 1.5e-5), (1.36, 2.2e-5), (1.37, 3e-5), (1.38, 4e-5),
          (1.39, 5.5e-5), (1.4, 8e-5), (1.41, 1.2e-4), (1.42, 1.8e-4), (1.43, 2.8e-4),
          (1.44, 4e-4), (1.45, 6e-4), (1.46, 5e-4), (1.47, 2.5e-4), (1.48, 1.2e-4), (1.49, 6e-5),
          (1.5, 4e-5), (1.51, 2.5e-5), (1.52, 3e-5), (1.53, 1.8e-5), (1.54, 2.2e-5), (1.55, 1.5e-5),
          (1.56, 1.8e-5), (1.57, 1.2e-5), (1.58, 2e-5), (1.59, 6e-5), (1.6, 1.5e-5), (1.61, 1e-5),
          (1.62, 1.2e-5), (1.63, 8e-6), (1.64, 1e-5), (1.65, 1.3e-5), (1.66, 8e-6), (1.67, 6e-6),
          (1.68, 8e-6), (1.69, 5e-6), (1.7, 7e-6), (1.71, 4.5e-6), (1.72, 6e-6), (1.73, 5e-6),
          (1.74, 8e-6), (1.75, 5e-6), (1.76, 6e-6), (1.77, 4e-6), (1.78, 5e-6), (1.79, 3.5e-6),
          (1.8, 4e-6), (1.81, 3e-6), (1.82, 3.8e-6), (1.83, 2.6e-6), (1.84, 3e-6), (1.85, 2.4e-6),
          (1.86, 2.8e-6), (1.87, 2.2e-6), (1.88, 3e-6), (1.89, 2.5e-6), (1.9, 3.5e-6),
          (1.91, 2.3e-6), (1.92, 2.8e-6), (1.93, 2.2e-6), (1.94, 2.6e-6), (1.95, 2e-6),
          (1.96, 2.5e-6), (1.97, 2.2e-6), (1.98, 2.8e-6), (1.99, 2.4e-6), (2.0, 3e-6),
          (2.02, 2.6e-6), (2.04, 3.5e-6), (2.06, 4.5e-6), (2.08, 6e-6), (2.1, 8e-6),
          (2.12, 1.1e-5), (2.14, 1.5e-5), (2.16, 2e-5), (2.18, 2.5e-5), (2.2, 2e-5), (2.22, 2.8e-5),
          (2.24, 2e-5), (2.26, 1.5e-5), (2.28, 1.2e-5), (2.3, 1e-5), (2.32, 1.2e-5), (2.34, 1.5e-5),
          (2.36, 2e-5), (2.38, 2.5e-5), (2.4, 3e-5), (2.42, 3.5e-5), (2.44, 4.5e-5), (2.46, 6e-5),
          (2.48, 1e-4), (2.5, 2e-4), (2.51, 3.3e-4), (2.52, 4e-4), (2.54, 5.5e-4), (2.56, 2.5e-4),
          (2.58, 9e-5), (2.6, 6e-5), (2.62, 4.5e-5), (2.64, 3.5e-5), (2.66, 4e-5), (2.68, 3e-5),
          (2.7, 2.5e-5), (2.72, 3e-5), (2.74, 2e-5), (2.76, 2.5e-5), (2.78, 1.8e-5), (2.8, 2.2e-5),
          (2.82, 3e-5), (2.84, 6e-5), (2.86, 1.5e-4), (2.88, 2.7e-4), (2.9, 3e-4), (2.92, 2e-4),
          (2.94, 1.5e-4), (2.96, 1.2e-4), (2.98, 1e-4), (3.0, 1.1e-4)]

sumT_10 = [(0.0, 1.2e-4), (0.01, 8e-5), (0.02, 4e-5), (0.03, 2e-5), (0.04, 1.1e-5), (0.05, 7e-6),
           (0.06, 4.5e-6), (0.07, 3e-6), (0.08, 2.2e-6), (0.09, 2e-6), (0.1, 1.5e-6),
           (0.11, 1.1e-6), (0.12, 8e-7), (0.13, 7e-7), (0.14, 6e-7), (0.15, 5e-7), (0.16, 6e-7),
           (0.17, 5e-7), (0.18, 5.5e-7), (0.19, 4.5e-7), (0.2, 5.5e-7), (0.21, 5e-7), (0.22, 6e-7),
           (0.23, 5.5e-7), (0.24, 7e-7), (0.25, 6e-7), (0.26, 7.5e-7), (0.27, 5e-7), (0.28, 7e-7),
           (0.29, 8e-7), (0.3, 8e-7), (0.31, 1e-6), (0.32, 9e-7), (0.33, 1.2e-6), (0.34, 1.4e-6),
           (0.35, 1.6e-6), (0.36, 2e-6), (0.37, 2.5e-6), (0.38, 3e-6), (0.39, 3.5e-6), (0.4, 4e-6),
           (0.41, 5e-6), (0.42, 6e-6), (0.43, 8e-6), (0.44, 1.1e-5), (0.45, 1.5e-5), (0.46, 2e-5),
           (0.47, 3e-5), (0.48, 5e-5), (0.49, 8e-5), (0.5, 1.3e-4), (0.51, 2e-4), (0.52, 3.5e-4),
           (0.53, 5e-4), (0.54, 6.6e-4), (0.55, 3.5e-4), (0.56, 1.5e-4), (0.57, 7e-5), (0.58, 4e-5),
           (0.59, 3e-5), (0.6, 2e-5), (0.61, 2.5e-5), (0.62, 1.8e-5), (0.63, 2.2e-5), (0.64, 1.5e-5),
           (0.65, 2e-5), (0.66, 1.5e-5), (0.67, 2.5e-5), (0.68, 2e-5), (0.69, 3e-5), (0.7, 2.5e-5),
           (0.71, 3.5e-5), (0.72, 3e-5), (0.73, 4.5e-5), (0.74, 6e-5), (0.75, 8e-5), (0.76, 1e-4),
           (0.77, 1.4e-4), (0.78, 2e-4), (0.79, 8e-4), (0.8, 3e-3), (0.805, 8e-3), (0.81, 3e-3),
           (0.82, 8e-4), (0.83, 3e-4), (0.84, 2e-4), (0.85, 2.5e-4), (0.86, 3e-4), (0.87, 3e-4),
           (0.88, 6e-4), (0.89, 2.5e-3), (0.897, 1e-2), (0.905, 3e-3), (0.915, 1.2e-3),
           (0.93, 1.3e-3), (0.945, 6e-4), (0.96, 5e-4), (0.97, 1.5e-3), (0.98, 4e-3),
           (0.99, 1.5e-3), (1.0, 8.6e-4), (1.01, 6e-4), (1.02, 5e-4), (1.03, 4e-4), (1.04, 5e-4),
           (1.05, 4e-4), (1.06, 5e-4), (1.07, 4e-4), (1.08, 2.5e-4), (1.09, 1.5e-4), (1.1, 1e-4),
           (1.12, 8e-5), (1.14, 6e-5), (1.16, 7e-5), (1.18, 5e-5), (1.2, 6e-5), (1.22, 4.5e-5),
           (1.24, 3.5e-5), (1.26, 4e-5), (1.28, 3.5e-5), (1.3, 5e-5), (1.32, 4e-5), (1.34, 6e-5),
           (1.36, 8e-5), (1.38, 1.1e-4), (1.4, 1.8e-4), (1.42, 3e-4), (1.43, 6e-4), (1.44, 1.2e-3),
           (1.45, 1.7e-3), (1.46, 1e-3), (1.47, 5e-4), (1.48, 3e-4), (1.49, 2.2e-4), (1.5, 2e-4),
           (1.51, 2.5e-4), (1.52, 2.2e-4), (1.53, 4e-4), (1.54, 1e-3), (1.55, 2.5e-3), (1.56, 4e-3),
           (1.57, 3e-3), (1.58, 6e-3), (1.59, 1e-2), (1.6, 3e-3), (1.61, 1.2e-3), (1.62, 8.6e-4),
           (1.63, 6e-4), (1.64, 4e-4), (1.65, 5e-4), (1.66, 3e-4), (1.67, 4e-4), (1.68, 3e-4),
           (1.69, 4.5e-4), (1.7, 3e-4), (1.71, 3.5e-4), (1.72, 2.5e-4), (1.73, 3.5e-4),
           (1.74, 2.8e-4), (1.75, 3.5e-4), (1.76, 2.5e-4), (1.77, 3e-4), (1.78, 2.7e-4),
           (1.79, 2e-4), (1.8, 1.6e-4), (1.81, 1.4e-4), (1.82, 1e-4), (1.83, 8e-5), (1.84, 6e-5),
           (1.85, 4e-5), (1.86, 5e-5), (1.87, 3e-5), (1.88, 4e-5), (1.89, 3e-5), (1.9, 2.8e-5),
           (1.92, 2.2e-5), (1.94, 2.8e-5), (1.96, 1.7e-5), (1.98, 1.2e-5), (2.0, 8e-6), (2.02, 1e-5),
           (2.04, 6e-6), (2.06, 1e-5), (2.08, 1.5e-5), (2.1, 2e-5), (2.12, 2.5e-5), (2.14, 2e-5),
           (2.16, 2.8e-5), (2.18, 2.2e-5), (2.2, 3e-5), (2.22, 2e-5), (2.24, 1.5e-5), (2.26, 8e-6),
           (2.28, 5e-6), (2.3, 4.5e-6), (2.32, 8e-6), (2.34, 2e-5), (2.35, 5e-5), (2.36, 1e-4),
           (2.37, 2e-4), (2.38, 2.7e-4), (2.39, 1.5e-4), (2.4, 8e-5), (2.42, 1.4e-4), (2.44, 1e-4),
           (2.46, 7e-5), (2.48, 1e-4), (2.5, 7e-5), (2.52, 9e-5), (2.54, 1.5e-4), (2.56, 3e-4),
           (2.58, 4e-4), (2.6, 5.4e-4), (2.62, 2e-4), (2.64, 1.2e-4), (2.66, 8.6e-5), (2.68, 6e-5),
           (2.7, 4.5e-5), (2.72, 3e-5), (2.74, 1.5e-5), (2.76, 6e-6), (2.78, 2.5e-6), (2.8, 1.8e-6),
           (2.82, 3e-6), (2.84, 5e-6), (2.86, 1e-5), (2.88, 2e-5), (2.9, 5e-5), (2.91, 1.2e-4),
           (2.92, 2e-4), (2.93, 8e-5), (2.94, 3e-5), (2.96, 1.4e-5), (2.98, 8e-6), (3.0, 1e-5)]

sumT_14 = [(0.0, 2.2e-4), (0.01, 1.8e-4), (0.02, 1.2e-4), (0.03, 7e-5), (0.04, 3.5e-5),
           (0.05, 2e-5), (0.06, 1.2e-5), (0.07, 8e-6), (0.08, 5e-6), (0.09, 3e-6), (0.1, 2.2e-6),
           (0.11, 1.8e-6), (0.12, 1.6e-6), (0.13, 1.8e-6), (0.14, 1.4e-6), (0.15, 1.5e-6),
           (0.16, 1.2e-6), (0.17, 1.1e-6), (0.18, 1e-6), (0.19, 1.4e-6), (0.2, 1.6e-6), (0.21, 2e-6),
           (0.22, 2.8e-6), (0.23, 2.2e-6), (0.24, 2.8e-6), (0.25, 2.4e-6), (0.26, 3e-6),
           (0.27, 2.6e-6), (0.28, 3.5e-6), (0.29, 3e-6), (0.3, 3.6e-6), (0.31, 3.2e-6), (0.32, 4e-6),
           (0.33, 3.5e-6), (0.34, 4.5e-6), (0.35, 4e-6), (0.36, 5.5e-6), (0.37, 6e-6), (0.38, 8e-6),
           (0.39, 1e-5), (0.4, 1.3e-5), (0.41, 1.6e-5), (0.42, 2e-5), (0.43, 2.5e-5),
           (0.44, 3.5e-5), (0.45, 5e-5), (0.46, 7e-5), (0.47, 1e-4), (0.48, 1.5e-4), (0.49, 2.2e-4),
           (0.5, 3.5e-4), (0.51, 5e-4), (0.52, 8e-4), (0.53, 1.2e-3), (0.54, 9e-4), (0.55, 5e-4),
           (0.56, 3e-4), (0.57, 1.8e-4), (0.58, 1.2e-4), (0.59, 8e-5), (0.6, 6e-5), (0.61, 5e-5),
           (0.62, 6e-5), (0.63, 4.5e-5), (0.64, 5.5e-5), (0.65, 4.5e-5), (0.66, 6e-5), (0.67, 5e-5),
           (0.68, 6.5e-5), (0.69, 5.5e-5), (0.7, 7e-5), (0.71, 6e-5), (0.72, 8e-5), (0.73, 1.2e-4),
           (0.74, 2e-4), (0.75, 3e-4), (0.76, 4.4e-4), (0.77, 6e-4), (0.78, 1.2e-3), (0.79, 2.5e-3),
           (0.8, 4e-3), (0.81, 2e-3), (0.82, 1e-3), (0.83, 5e-4), (0.84, 3e-4), (0.85, 2.2e-4),
           (0.86, 3e-4), (0.87, 6e-4), (0.88, 1.2e-3), (0.89, 2.4e-3), (0.9, 2e-3), (0.91, 1.2e-3),
           (0.92, 8e-4), (0.93, 6.6e-4), (0.94, 5e-4), (0.95, 4e-4), (0.96, 3.5e-4), (0.97, 4e-4),
           (0.98, 3e-4), (0.99, 3.5e-4), (1.0, 2.7e-4), (1.01, 3.2e-4), (1.02, 3e-4), (1.03, 4e-4),
           (1.04, 4.5e-4), (1.05, 5.5e-4), (1.06, 6.6e-4), (1.07, 6e-4), (1.08, 4e-4),
           (1.09, 2.5e-4), (1.1, 2e-4), (1.11, 1.7e-4), (1.12, 1.5e-4), (1.13, 1.7e-4),
           (1.14, 1.4e-4), (1.15, 1.6e-4), (1.16, 1.3e-4), (1.17, 1.5e-4), (1.18, 1.4e-4),
           (1.19, 1.6e-4), (1.2, 1.4e-4), (1.21, 1.5e-4), (1.22, 1.3e-4), (1.23, 1.6e-4),
           (1.24, 1.5e-4), (1.25, 1.8e-4), (1.26, 1.6e-4), (1.27, 2e-4), (1.28, 1.7e-4),
           (1.29, 1.2e-4), (1.3, 1.5e-4), (1.31, 1.2e-4), (1.32, 1.4e-4), (1.33, 1.3e-4),
           (1.34, 1.6e-4), (1.35, 1.7e-4), (1.36, 2e-4), (1.37, 2.5e-4), (1.38, 3e-4), (1.39, 4e-4),
           (1.4, 5e-4), (1.41, 7e-4), (1.42, 1e-3), (1.43, 1.6e-3), (1.44, 2.2e-3), (1.45, 2.6e-3),
           (1.46, 2e-3), (1.47, 1.3e-3), (1.48, 1.3e-3), (1.49, 1.2e-3), (1.5, 1.5e-3),
           (1.51, 2e-3), (1.52, 2.5e-3), (1.53, 2.2e-3), (1.54, 2e-3), (1.55, 2.5e-3), (1.56, 3e-3),
           (1.57, 3.5e-3), (1.58, 4e-3), (1.59, 5e-3), (1.6, 3e-3), (1.61, 2e-3), (1.62, 1.5e-3),
           (1.63, 1.3e-3), (1.64, 1.2e-3), (1.65, 1e-3), (1.66, 1.2e-3), (1.67, 9e-4), (1.68, 1e-3),
           (1.69, 8e-4), (1.7, 9e-4), (1.71, 7e-4), (1.72, 8e-4), (1.73, 6e-4), (1.74, 7e-4),
           (1.75, 5e-4), (1.76, 6e-4), (1.77, 4.5e-4), (1.78, 5e-4), (1.79, 4e-4), (1.8, 4.5e-4),
           (1.81, 3.5e-4), (1.82, 3e-4), (1.83, 2.5e-4), (1.84, 2e-4), (1.85, 1.6e-4),
           (1.86, 1.3e-4), (1.87, 1e-4), (1.88, 8e-5), (1.89, 7e-5), (1.9, 6e-5), (1.91, 5e-5),
           (1.92, 5.5e-5), (1.93, 4.5e-5), (1.94, 5e-5), (1.95, 4e-5), (1.96, 3.5e-5), (1.97, 4e-5),
           (1.98, 3.5e-5), (1.99, 4.5e-5), (2.0, 5e-5), (2.02, 6e-5), (2.04, 7e-5), (2.06, 6e-5),
           (2.08, 8e-5), (2.1, 7e-5), (2.12, 9e-5), (2.14, 8e-5), (2.16, 1e-4), (2.18, 9e-5),
           (2.2, 1.1e-4), (2.22, 1e-4), (2.24, 1.2e-4), (2.26, 1.1e-4), (2.28, 1.3e-4),
           (2.3, 1.2e-4), (2.32, 1.4e-4), (2.34, 2.7e-4), (2.36, 5e-4), (2.38, 1e-3), (2.4, 6e-4),
           (2.42, 3.3e-4), (2.44, 3.5e-4), (2.46, 3e-4), (2.48, 3.5e-4), (2.5, 6e-4),
           (2.51, 1.1e-3), (2.53, 1.7e-3), (2.55, 8e-4), (2.57, 4e-4), (2.59, 4.5e-4),
           (2.61, 3.5e-4), (2.63, 4e-4), (2.65, 3e-4), (2.67, 2.7e-4), (2.69, 2.2e-4),
           (2.71, 1.8e-4), (2.73, 1.2e-4), (2.75, 9e-5), (2.77, 6e-5), (2.79, 4.4e-5), (2.81, 7e-5),
           (2.83, 1.2e-4), (2.85, 2.5e-4), (2.87, 4e-4), (2.89, 5e-4), (2.91, 5.4e-4),
           (2.93, 3e-4), (2.95, 2.2e-4), (2.97, 1.7e-4), (2.99, 2e-4), (3.0, 1.8e-4)]

legendLabels = ['wind - 2 m/s', 'wind - 10 m/s', 'wind - 14 m/s']
lineColors = ['#000080', '#800000', '#008080']

titles = [('Power Spectral Density functions at reference section',
           '(half-sum of vertical acceleration)'),
          ('Power Sepctral Density functions at reference section',
           '(half-difference of vertical acceleration)'),
          ('Power Sepctral Density functions at reference section',
           '(half-sum of transversal acceleration)')]

FONT = 'Liberation Sans'
FS = 11


def decadeLabel(value, pos):
    '''
    Excel-like scientific labels: 1E-02
    '''
    exponent = int(round(math.log10(value)))
    return '1E-%02d' % (-exponent)


def freqLabel(value, pos):
    return '%g' % round(value, 3)


def styleAxes(ax, ymin, ymax, xstep):
    ax.set_yscale('log')
    ax.set_xlim(0, 3)
    ax.set_ylim(ymin, ymax)
    ax.set_axisbelow(True)

    ax.xaxis.set_major_locator(MultipleLocator(xstep))
    ax.xaxis.set_minor_locator(MultipleLocator(0.1))
    ax.xaxis.set_major_formatter(FuncFormatter(freqLabel))
    ax.yaxis.set_major_locator(LogLocator(base=10, numticks=20))
    ax.yaxis.set_minor_locator(LogLocator(base=10, subs=range(2, 10), numticks=20))
    ax.yaxis.set_major_formatter(FuncFormatter(decadeLabel))
    ax.yaxis.set_minor_formatter(NullFormatter())

    # grid: grey minor horizontals broken at each 0.1 Hz line,
    # black dashed decades and 0.1 Hz verticals
    ax.grid(True, which='minor', axis='y', color='#c8c8c8', linewidth=1.0,
            linestyle=(11.9, (10.4, 3.0)))
    ax.grid(True, which='major', axis='y', color='black', linewidth=0.8,
            linestyle=(0, (5, 3.5)))
    ax.grid(True, which='both', axis='x', color='black', linewidth=0.8,
            linestyle=(0, (5, 3.5)))

    # x axis line drawn at the top, labels at the bottom (Excel style)
    ax.tick_params(axis='x', which='major', bottom=False, top=True, labelbottom=True,
                   labeltop=False, direction='inout', length=7, width=0.8, pad=8,
                   labelsize=FS)
    ax.tick_params(axis='x', which='minor', bottom=False, top=False)
    ax.tick_params(axis='y', which='major', left=True, direction='inout', length=8,
                   width=0.8, pad=2, labelsize=FS)
    ax.tick_params(axis='y', which='minor', left=False)

    ax.spines['top'].set_linewidth(1.0)
    ax.spines['left'].set_linewidth(1.0)
    ax.spines['left'].set_color('#404040')
    ax.spines['bottom'].set_visible(False)
    ax.spines['right'].set_visible(False)


def main():
    plt.rcParams['font.family'] = [FONT, 'DejaVu Sans']
    plt.rcParams['lines.scale_dashes'] = False
    fig = plt.figure(figsize=(6.21, 8.40), dpi=100)

    # rect, ymin, ymax, x tick step, series, (title1 y, title2 y, amplitude x, amplitude y,
    # frequency label x, frequency label y) in pixels
    panels = [
        ([0.0950, 0.7357, 0.8969, 0.2071], 1e-6, 1e-2, 0.2,
         [sumV_2, sumV_10, sumV_14], (12, 33, 9, 30, 348, 260)),
        ([0.0998, 0.3976, 0.8921, 0.2095], 1e-8, 1e-1, 0.3,
         [difV_2, difV_10, difV_14], (296, 316, 7, 307, 347, 543)),
        ([0.0998, 0.0643, 0.8921, 0.2012], 1e-7, 1e-2, 0.3,
         [sumT_2, sumT_10, sumT_14], (577, 597, 12, 596, 340, 826)),
    ]

    W, H = 621.0, 840.0
    for i, (rect, ymin, ymax, xstep, series, pix) in enumerate(panels):
        ax = fig.add_axes(rect)
        for pairs, col, lab in zip(series, lineColors, legendLabels):
            f = [p[0] for p in pairs]
            a = [p[1] for p in pairs]
            ax.plot(f, a, color=col, linewidth=0.8, label=lab)
        styleAxes(ax, ymin, ymax, xstep)

        leg = ax.legend(loc='lower right', bbox_to_anchor=(1.0, 0.0), ncol=3, frameon=True,
                        fontsize=FS, handlelength=1.5, handletextpad=0.35,
                        columnspacing=1.45, borderaxespad=0.0, borderpad=0.3)
        leg.get_frame().set_facecolor('white')
        leg.get_frame().set_edgecolor('none')
        leg.get_frame().set_alpha(1.0)

        t1, t2, xAmp, yAmp, xFreq, yFreq = pix
        fig.text(318 / W, 1 - t1 / H, titles[i][0], ha='center', va='center', fontsize=FS)
        fig.text(319 / W, 1 - t2 / H, titles[i][1], ha='center', va='center', fontsize=FS)
        fig.text(xAmp / W, 1 - yAmp / H, 'Amplitude', ha='left', va='center', fontsize=FS)
        fig.text(xFreq / W, 1 - yFreq / H, 'Frequency (Hz)', ha='center', va='center',
                 fontsize=FS)

    fig.savefig('out.png', dpi=100)


if __name__ == '__main__':
    main()
